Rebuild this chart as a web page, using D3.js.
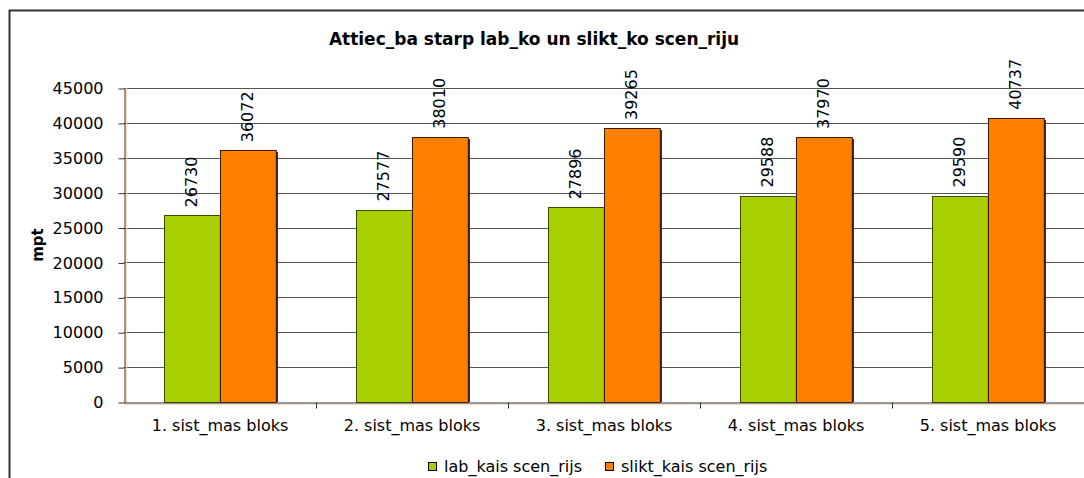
<!DOCTYPE html>
<html>
<head>
<meta charset="utf-8">
<script src="https://cdn.jsdelivr.net/npm/d3@7"></script>
<style>
body { margin: 0; background: #fff; }
text { font-family: "DejaVu Sans", Verdana, sans-serif; fill: #000; }
</style>
</head>
<body>
<div id="chart"></div>
<script>
// data
var categories = ["1. sist_mas bloks", "2. sist_mas bloks", "3. sist_mas bloks", "4. sist_mas bloks", "5. sist_mas bloks"];
var seriesNames = ["lab_kais scen_rijs", "slikt_kais scen_rijs"];
var goodValues = [26730, 27577, 27896, 29588, 29590];
var badValues = [36072, 38010, 39265, 37970, 40737];
var yTicks = [0, 5000, 10000, 15000, 20000, 25000, 30000, 35000, 40000, 45000];
var colors = ["#a8d000", "#ff7f00"];

var width = 1084, height = 478;
var svg = d3.select("#chart").append("svg")
  .attr("width", width)
  .attr("height", height);

// outer chart frame (runs off the right and bottom)
svg.append("path")
  .attr("d", "M9.5," + height + "V10.5H" + width)
  .style("fill", "none")
  .style("stroke", "#333")
  .style("stroke-width", 2);

var pLeft = 124, pRight = 1084, pTop = 88, pBottom = 402;

var y = d3.scaleLinear().domain([0, 45000]).range([pBottom, pTop]);
var x0 = d3.scaleBand().domain(categories).range([pLeft, pRight]).padding(0);
var x1 = d3.scaleBand().domain([0, 1])
  .range([0, x0.bandwidth()])
  .paddingOuter(0.72).paddingInner(0);

// gridlines
svg.append("g").selectAll("line")
  .data(yTicks.filter(function(d){ return d > 0; }))
  .enter().append("line")
  .attr("x1", pLeft).attr("x2", pRight)
  .attr("y1", function(d){ return Math.round(y(d)) + 0.5; })
  .attr("y2", function(d){ return Math.round(y(d)) + 0.5; })
  .style("stroke", "#555")
  .style("stroke-width", 1);

// y axis
var yAxis = d3.axisLeft(y).tickValues(yTicks).tickFormat(d3.format("d"))
  .tickSize(6).tickPadding(15).tickSizeOuter(0);
var gy = svg.append("g")
  .attr("transform", "translate(" + (pLeft + 0.5) + ",0.5)")
  .call(yAxis);
gy.select(".domain").style("stroke", "#333");
gy.selectAll(".tick line").style("stroke", "#333");
gy.selectAll("text").style("font-size", "16px").style("font-family", "DejaVu Sans");

// faint plot-area edge
svg.append("line")
  .attr("x1", pLeft + 2.5).attr("x2", pLeft + 2.5)
  .attr("y1", pTop).attr("y2", pBottom + 2)
  .style("stroke", "#f8d8b8");
svg.append("line")
  .attr("x1", pLeft).attr("x2", pRight)
  .attr("y1", pBottom + 2.5).attr("y2", pBottom + 2.5)
  .style("stroke", "#f8d8b8");

// bars
var rows = categories.map(function(c, i){
  return {cat: c, vals: [goodValues[i], badValues[i]]};
});

var groups = svg.selectAll(".grp")
  .data(rows)
  .enter().append("g")
  .attr("class", "grp")
  .attr("transform", function(d){ return "translate(" + x0(d.cat) + ",0)"; });

var bars = groups.selectAll("g.bar")
  .data(function(d){ return d.vals.map(function(v, k){ return {k: k, v: v}; }); })
  .enter().append("g").attr("class", "bar");

// shadow
bars.append("rect")
  .attr("x", function(d){ return Math.round(x1(d.k)) + 2; })
  .attr("y", function(d){ return Math.round(y(d.v)) + 2; })
  .attr("width", x1.bandwidth())
  .attr("height", function(d){ return pBottom - Math.round(y(d.v)) - 2; })
  .style("fill", "#000");

bars.append("rect")
  .attr("x", function(d){ return Math.round(x1(d.k)) + 0.5; })
  .attr("y", function(d){ return Math.round(y(d.v)) + 0.5; })
  .attr("width", x1.bandwidth())
  .attr("height", function(d){ return pBottom - Math.round(y(d.v)); })
  .style("fill", function(d){ return colors[d.k]; })
  .style("stroke", function(d){ return d.k == 0 ? "#3a4a00" : "#3a1a00"; })
  .style("stroke-width", 1);

bars.append("text")
  .attr("transform", function(d){
    var cx = x1(d.k) + x1.bandwidth() / 2 + 5;
    return "translate(" + cx + "," + (y(d.v) - 8) + ") rotate(-90)";
  })
  .style("font-size", "16px")
  .text(function(d){ return d.v; });

// x axis
var xAxis = d3.axisBottom(x0).tickSize(0).tickPadding(17);
var gx = svg.append("g")
  .attr("transform", "translate(0," + (pBottom + 0.5) + ")")
  .call(xAxis);
gx.select(".domain").style("stroke", "#333");
gx.selectAll("text").style("font-size", "16px").style("font-family", "DejaVu Sans");
// category separator ticks
gx.selectAll(".sep")
  .data(categories.slice(1))
  .enter().append("line")
  .attr("x1", function(d){ return Math.round(x0(d)) + 0.5; })
  .attr("x2", function(d){ return Math.round(x0(d)) + 0.5; })
  .attr("y1", 0).attr("y2", 6)
  .style("stroke", "#333");

// title
svg.append("text")
  .attr("x", 534).attr("y", 45)
  .attr("text-anchor", "middle")
  .style("font-size", "17px")
  .style("font-weight", "bold")
  .text("Attiec_ba starp lab_ko un slikt_ko scen_riju");

// y axis title
svg.append("text")
  .attr("transform", "translate(43," + ((pTop + pBottom) / 2) + ") rotate(-90)")
  .attr("text-anchor", "middle")
  .style("font-size", "15px")
  .style("font-weight", "bold")
  .text("mpt");

// legend
var legend = svg.append("g").attr("transform", "translate(428,462)");
var items = legend.selectAll("g")
  .data(seriesNames)
  .enter().append("g")
  .attr("transform", function(d, i){ return "translate(" + (i * 177) + ",0)"; });
items.append("rect")
  .attr("x", 0.5).attr("y", 0.5)
  .attr("width", 8).attr("height", 8)
  .style("fill", function(d, i){ return colors[i]; })
  .style("stroke", "#000");
items.append("text")
  .attr("x", 16).attr("y", 10)
  .style("font-size", "16px")
  .text(function(d){ return d; });
</script>
</body>
</html>
